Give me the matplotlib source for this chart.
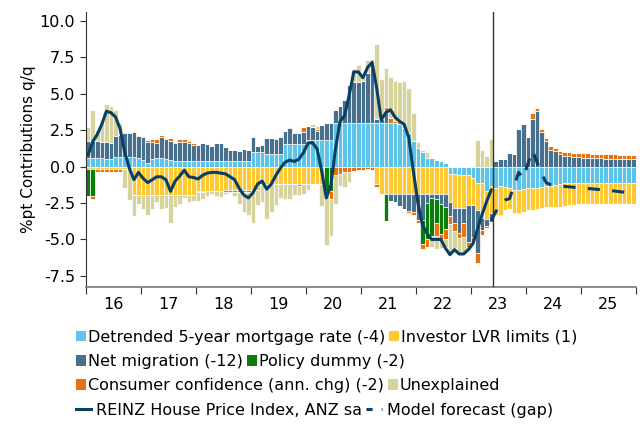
import numpy as np
import matplotlib.pyplot as plt
from matplotlib.patches import Patch
from matplotlib.lines import Line2D

plt.rcParams['font.family'] = 'DejaVu Sans'
plt.rcParams['axes.unicode_minus'] = False

# monthly contributions, Jan 2016 - Dec 2025 (%pt)
mortgage_rate = [
    0.57, 0.57, 0.57, 0.57, 0.55, 0.55, 0.64, 0.66, 0.66, 0.66, 0.66, 0.57,
    0.45, 0.25, 0.55, 0.57, 0.62, 0.55, 0.45, 0.38, 0.37, 0.37, 0.37, 0.37,
    0.37, 0.37, 0.37, 0.37, 0.37, 0.40, 0.41, 0.41, 0.41, 0.41, 0.41, 0.41,
    1.03, 1.03, 1.03, 0.87, 0.87, 0.87, 0.87, 1.53, 1.53, 1.53, 1.53, 1.53,
    1.83, 1.83, 1.83, 1.83, 1.83, 1.83, 3.00, 3.00, 3.00, 3.00, 3.00, 3.00,
    3.00, 3.00, 3.00, 3.00, 3.00, 3.00, 3.00, 3.00, 2.90, 2.65, 2.30, 1.75,
    1.30, 1.00, 0.62, 0.60, 0.46, 0.40, 0.23, -0.50, -0.50, -0.55, -0.55, -0.55,
    -0.80, -1.10, -1.15, -1.65, -1.30, -1.45, -1.35, -1.40, -1.50, -1.60, -1.60, -1.55,
    -1.50, -1.50, -1.45, -1.40, -1.35, -1.30, -1.25, -1.20, -1.15, -1.12, -1.10, -1.10,
    -1.10, -1.10, -1.10, -1.10, -1.10, -1.10, -1.10, -1.10, -1.10, -1.10, -1.10, -1.10,
]
investor_lvr = [
    -0.20, -0.20, -0.20, -0.20, -0.20, -0.20, -0.20, -0.20, -0.20, -0.20, -1.95, -1.95,
    -1.95, -1.95, -1.95, -1.95, -1.95, -1.95, -1.95, -1.95, -1.95, -1.95, -1.95, -1.95,
    -1.65, -1.65, -1.65, -1.65, -1.65, -1.65, -1.60, -1.60, -1.60, -1.60, -1.60, -1.60,
    -1.60, -1.60, -1.20, -1.20, -1.20, -1.20, -1.20, -1.20, -1.20, -1.20, -1.20, -1.20,
    -1.20, -1.20, -1.20, -1.20, 0.00, 0.00, 0.00, 0.00, 0.00, 0.00, 0.00, 0.00,
    0.00, 0.00, 0.00, -1.20, -1.90, -1.90, -1.90, -1.90, -1.90, -1.90, -1.90, -1.90,
    -1.90, -1.90, -1.90, -1.90, -1.90, -1.90, -1.90, -1.90, -2.35, -2.30, -2.30, -2.10,
    -1.85, -1.90, -2.40, -1.95, -1.90, -1.85, -1.95, -1.60, -1.40, -1.60, -1.60, -1.55,
    -1.50, -1.45, -1.45, -1.45, -1.45, -1.45, -1.50, -1.55, -1.55, -1.55, -1.55, -1.50,
    -1.50, -1.50, -1.50, -1.50, -1.50, -1.50, -1.50, -1.50, -1.50, -1.50, -1.50, -1.50,
]
net_migration = [
    1.21, 1.21, 1.17, 1.15, 1.12, 1.10, 1.49, 1.49, 1.63, 1.63, 1.70, 1.50,
    1.61, 1.47, 1.17, 1.08, 1.38, 1.33, 1.31, 1.22, 1.35, 1.35, 1.23, 1.12,
    1.13, 1.23, 1.18, 1.05, 1.28, 1.25, 0.96, 0.73, 0.73, 0.69, 0.78, 0.73,
    0.97, 0.39, 0.46, 1.07, 1.07, 1.01, 1.13, 0.94, 1.15, 0.80, 0.80, 0.87,
    0.97, 0.87, 0.62, 1.03, 1.17, 1.17, 0.90, 1.15, 1.60, 2.60, 2.80, 2.80,
    2.90, 3.40, 4.20, 0.30, 0.30, 0.70, -0.45, -0.50, -0.80, -1.00, -1.15, -1.25,
    -1.80, -1.80, -0.60, -0.25, -0.35, -0.70, -0.90, -1.00, -1.00, -1.70, -1.00, -2.55,
    -2.20, -2.95, -0.80, -0.50, -0.60, 0.40, 0.55, 0.50, 0.95, 0.85, 2.55, 2.95,
    2.00, 3.30, 3.80, 2.40, 1.75, 1.15, 1.05, 0.85, 0.75, 0.70, 0.66, 0.63,
    0.61, 0.60, 0.58, 0.57, 0.56, 0.55, 0.54, 0.53, 0.52, 0.51, 0.50, 0.50,
]
policy_dummy = [
    -1.80, -1.80, 0, 0, 0, 0, 0, 0, 0, 0, 0, 0,
    0, 0, 0, 0, 0, 0, 0, 0, 0, 0, 0, 0,
    0, 0, 0, 0, 0, 0, 0, 0, 0, 0, 0, 0,
    0, 0, 0, 0, 0, 0, 0, 0, 0, 0, 0, 0,
    0, 0, 0, 0, -1.70, -1.70, 0, 0, 0, 0, 0, 0,
    0, 0, 0, 0, 0, -1.85, 0, 0, 0, 0, 0, 0,
    0, -1.60, -2.50, -2.60, -1.60, -2.05, -1.50, 0, 0, 0, 0, 0,
    0, 0, 0, 0, 0, 0, 0, 0, 0, 0, 0, 0,
    0, 0, 0, 0, 0, 0, 0, 0, 0, 0, 0, 0,
    0, 0, 0, 0, 0, 0, 0, 0, 0, 0, 0, 0,
]
consumer_conf = [
    0.00, -0.25, -0.18, -0.15, -0.20, -0.20, -0.20, -0.20, 0.05, 0.10, 0.10, 0.10,
    0.05, 0.10, 0.20, 0.25, 0.20, 0.10, 0.20, 0.10, 0.20, 0.20, 0.15, 0.10,
    -0.10, -0.10, 0.00, 0.00, 0.00, 0.00, -0.15, -0.15, -0.15, -0.15, -0.15, -0.15,
    -0.15, 0.00, 0.00, 0.00, 0.00, 0.10, 0.10, 0.00, 0.05, 0.00, -0.10, 0.30,
    0.00, 0.00, 0.10, 0.00, 0.00, -0.55, -0.55, -0.50, -0.40, -0.35, -0.30, -0.25,
    -0.25, -0.20, -0.25, -0.20, 0.00, 0.40, 0.35, 0.15, 0.15, 0.15, -0.15, -0.20,
    -0.20, -0.35, -0.55, 0.00, -0.90, -0.55, -0.70, -0.55, -0.55, -0.35, -1.00, -0.30,
    -0.35, -0.65, -0.35, -0.15, 0.00, -0.10, -0.10, 0.00, 0.00, -0.08, -0.08, 0.00,
    0.00, 0.35, 0.20, 0.20, 0.22, 0.25, 0.20, 0.22, 0.25, 0.27, 0.28, 0.30,
    0.30, 0.30, 0.30, 0.30, 0.30, 0.30, 0.30, 0.30, 0.28, 0.28, 0.27, 0.27,
]
unexplained = [
    0.97, 2.12, 0.76, 1.44, 2.61, 2.51, 1.77, 0.85, -1.30, -2.10, -1.45, -0.65,
    -0.95, -1.40, -0.95, -0.45, -0.95, -0.90, -1.90, -0.80, -0.65, -0.20, -0.50, -0.40,
    -0.60, -0.45, -0.35, -0.25, -0.40, -0.45, -0.10, -0.08, -0.30, -0.80, -1.35, -1.60,
    -2.10, -1.05, -1.25, -2.40, -1.90, -1.45, -0.95, -1.00, -1.00, -0.75, -0.65, -0.65,
    -0.40, 0.25, 0.25, -1.50, -3.65, -2.50, -2.00, -0.80, -1.00, -0.70, 0.90, 1.20,
    0.40, 0.90, 0.20, 5.10, 2.70, 2.65, 2.80, 2.75, 2.75, 3.10, 3.10, 1.90,
    0.40, 0.15, 0.40, -0.80, -0.90, -0.40, -0.55, -1.95, -1.20, -1.00, -1.00, -0.20,
    -0.10, 1.83, 1.14, 0.73, 1.90, 0, 0, 0, 0, 0, 0, 0,
    0, 0, 0, 0, 0, 0, 0, 0, 0, 0, 0, 0,
    0, 0, 0, 0, 0, 0, 0, 0, 0, 0, 0, 0,
]

# REINZ house price index, Jan 2016 - May 2023
house_price = [
    0.8, 1.7, 2.2, 2.9, 3.8, 3.7, 3.4, 2.6, 1.0, -0.1, -0.9, -0.4,
    -0.8, -1.1, -0.9, -0.7, -0.7, -0.9, -1.7, -1.0, -0.65, -0.25, -0.7, -0.75,
    -0.85, -0.6, -0.45, -0.4, -0.4, -0.45, -0.5, -0.7, -0.9, -1.5, -1.95, -2.15,
    -1.8, -1.2, -1.0, -1.55, -1.2, -0.6, -0.1, 0.3, 0.45, 0.35, 0.5, 0.95,
    1.6, 1.65, 1.2, -0.3, -2.15, -1.3, 1.2, 3.1, 3.5, 4.9, 6.5, 6.5,
    6.1, 6.8, 7.15, 5.4, 3.2, 3.7, 3.9, 3.4, 3.1, 2.9, 2.0, -0.3,
    -2.5, -4.0, -4.6, -5.0, -5.0, -5.0, -5.6, -6.05, -5.7, -6.0, -6.0, -5.7,
    -5.3, -4.3, -3.3, -2.4, -1.6,
]
# model forecast, May 2023 - Dec 2025
model_forecast = [
    -3.7, -3.1, -2.6, -2.3, -2.2, -1.3, -0.4, -0.8,
    0.2, 1.1, 0.3, -0.5, -1.1, -1.25, -1.3, -1.33, -1.36, -1.39, -1.42, -1.45,
    -1.48, -1.5, -1.53, -1.56, -1.59, -1.62, -1.65, -1.68, -1.72, -1.76, -1.8, -1.85,
]

series = [
    ("Detrended 5-year mortgage rate (-4)", mortgage_rate, "#5bc4e8"),
    ("Investor LVR limits (1)", investor_lvr, "#ffc934"),
    ("Net migration (-12)", net_migration, "#47708f"),
    ("Policy dummy (-2)", policy_dummy, "#0a7d0a"),
    ("Consumer confidence (ann. chg) (-2)", consumer_conf, "#e8720c"),
    ("Unexplained", unexplained, "#d7d39c"),
]
line_col = "#083f62"

n = len(mortgage_rate)
x = 2016 + (np.arange(n) + 0.5) / 12

fig = plt.figure(figsize=(6.4, 4.24), dpi=100)
ax = fig.add_axes([0.134, 0.323, 0.859, 0.649])

pos_base = np.zeros(n)
neg_base = np.zeros(n)
for name, vals, col in series:
    v = np.array(vals, dtype=float)
    pos = np.where(v > 0, v, 0)
    neg = np.where(v < 0, v, 0)
    ax.bar(x, pos, width=1 / 12, bottom=pos_base, color=col,
           edgecolor="white", linewidth=0.5, zorder=2)
    ax.bar(x, neg, width=1 / 12, bottom=neg_base, color=col,
           edgecolor="white", linewidth=0.5, zorder=2)
    pos_base += pos
    neg_base += neg

ax.plot(x[:len(house_price)], house_price, color=line_col, lw=2.2, zorder=4,
        solid_capstyle="round")
xf = x[len(house_price) - 1:len(house_price) - 1 + len(model_forecast)]
ax.plot(xf, model_forecast, color=line_col, lw=2.2, zorder=4, dashes=(4, 4))

ax.axvline(2023 + 5 / 12, color="#333333", lw=1, zorder=5)

fs = 11.5
ax.set_xlim(2016, 2026)
ax.set_ylim(-8.27, 10.62)
ax.set_yticks(np.arange(-7.5, 10.01, 2.5))
ax.set_yticklabels([f"{t:.1f}" for t in np.arange(-7.5, 10.01, 2.5)])
ax.set_xticks(np.arange(2016, 2027))
ax.set_xticklabels([])
ax.set_xticks(np.arange(2016.5, 2026), minor=True)
ax.set_xticklabels([str(y)[2:] for y in range(2016, 2026)], minor=True)
ax.tick_params(axis="x", which="minor", length=0, pad=7, labelsize=fs)
ax.tick_params(axis="x", which="major", length=5, color="#333333")
ax.tick_params(axis="y", length=4, labelsize=fs, color="#333333")
ax.set_ylabel("%pt Contributions q/q", fontsize=11, labelpad=3)

for s in ["top", "right"]:
    ax.spines[s].set_visible(False)
ax.spines["left"].set_color("#333333")
ax.spines["bottom"].set_color("#777777")
ax.spines["bottom"].set_linewidth(1.2)

# legend, four rows flowing left to right
def patch(col):
    return Patch(facecolor=col, edgecolor="none")

rows = [
    ([patch(series[0][2]), patch(series[1][2])], [series[0][0], series[1][0]]),
    ([patch(series[2][2]), patch(series[3][2])], [series[2][0], series[3][0]]),
    ([patch(series[4][2]), patch(series[5][2])], [series[4][0], series[5][0]]),
    ([Line2D([], [], color=line_col, lw=2.2),
      Line2D([], [], color=line_col, lw=2.2, dashes=(2, 3))],
     ["REINZ House Price Index, ANZ sa", "Model forecast (gap)"]),
]
row_y = [0.205, 0.147, 0.090, 0.032]
for (h, l), yy in zip(rows, row_y):
    is_line = isinstance(h[0], Line2D)
    fig.legend(h, l, loc="center left", bbox_to_anchor=(0.118, yy), ncol=2,
               frameon=False, borderpad=0, borderaxespad=0,
               handlelength=1.0 if is_line else 0.65, handleheight=0.65,
               handletextpad=0.3 if is_line else 0.12, columnspacing=0.25,
               fontsize=fs)

fig.savefig("out.png", dpi=100)
